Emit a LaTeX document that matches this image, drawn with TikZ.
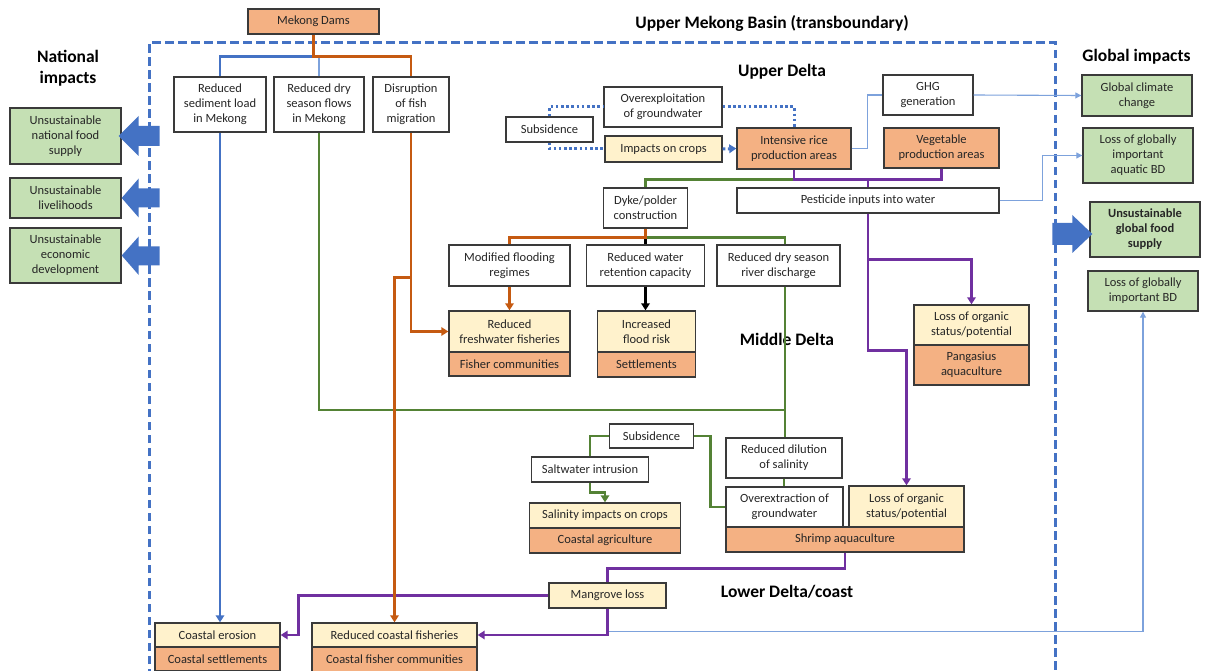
\documentclass[tikz,border=0pt]{standalone}
\usepackage{fontspec}
\setmainfont{Carlito}
\usetikzlibrary{arrows.meta,calc}

\definecolor{boxorange}{HTML}{F4B183}
\definecolor{boxyellow}{HTML}{FFF2CC}
\definecolor{boxgreen}{HTML}{C5E0B4}
\definecolor{edgegray}{HTML}{3A3A3A}
\definecolor{textgray}{HTML}{262626}
\definecolor{lnblue}{HTML}{4472C4}
\definecolor{lnthin}{HTML}{7DA2DC}
\definecolor{lnorange}{HTML}{C55A11}
\definecolor{lngreen}{HTML}{548235}
\definecolor{lnpurple}{HTML}{7030A0}

\newcommand\bxfont{\fontsize{12.5}{15}\selectfont}
\newcommand\hdfont{\fontsize{17.5}{21}\selectfont\bfseries}

\tikzset{
  box/.style={draw=edgegray, line width=1.4pt, inner sep=0pt, align=center, font=\bxfont, text=textgray},
  wbox/.style={box, fill=white},
  obox/.style={box, fill=boxorange},
  ybox/.style={box, fill=boxyellow},
  gbox/.style={box, fill=boxgreen},
  heading/.style={inner sep=0pt, align=center, font=\hdfont},
  thick line/.style={line width=2.8pt},
  cblue/.style={thick line, draw=lnblue},
  corange/.style={thick line, draw=lnorange},
  cgreen/.style={thick line, draw=lngreen},
  cpurple/.style={thick line, draw=lnpurple},
  cblack/.style={thick line, draw=black},
  cthin/.style={line width=1.1pt, draw=lnthin},
  cdot/.style={line width=3pt, draw=lnblue, dash pattern=on 2.6pt off 2.6pt},
  arr/.style={-{Triangle[length=7pt,width=8.5pt]}},
  tarr/.style={-{Triangle[length=6pt,width=6pt]}},
  bigarrow/.style={fill=lnblue},
}

\begin{document}
\begin{tikzpicture}[x=1pt,y=-1pt]
\useasboundingbox (0,0) rectangle (1208,671);
\fill[white] (0,0) rectangle (1208,671);

% basin boundary
\draw[lnblue, line width=3pt, dash pattern=on 8.5pt off 4.5pt]
  (149,690) -- (149,43) -- (1055,43) -- (1055,690);

% headings
\node[heading] (tBasin) at (772,23) {Upper Mekong Basin (transboundary)};
\node[heading] (tNat) at (68,68.5) {National\\impacts};
\node[heading] (tGlob) at (1136.5,57) {Global impacts};
\node[heading] (tUp) at (782,72) {Upper Delta};
\node[heading] (tMid) at (787,339) {Middle Delta};
\node[heading] (tLow) at (787,592) {Lower Delta/coast};

% dams and their direct effects
\node[obox, minimum width=131, minimum height=25] (dams) at (313.5,21.5) {Mekong Dams};
\node[wbox, minimum width=92, minimum height=55] (sed) at (220,104.5) {Reduced\\sediment load\\in Mekong};
\node[wbox, minimum width=90, minimum height=55] (dry) at (319,104.5) {Reduced dry\\season flows\\in Mekong};
\node[wbox, minimum width=76, minimum height=55] (fish) at (411,104.5) {Disruption\\of fish\\migration};

% upper delta
\node[wbox, minimum width=118, minimum height=40] (ovx) at (663,107) {Overexploitation\\of groundwater};
\node[wbox, minimum width=87, minimum height=25] (subU) at (549.5,129.5) {Subsidence};
\node[ybox, minimum width=117, minimum height=26] (crops) at (663.5,149) {Impacts on crops};
\node[obox, minimum width=114, minimum height=41] (rice) at (794,148.5) {Intensive rice\\production areas};
\node[wbox, minimum width=90, minimum height=40] (ghg) at (928,95) {GHG\\generation};
\node[obox, minimum width=115, minimum height=40] (veg) at (941.5,148) {Vegetable\\production areas};
\node[wbox, minimum width=84, minimum height=40] (dyke) at (645.5,208) {Dyke/polder\\construction};
\node[wbox, minimum width=262, minimum height=25] (pest) at (868,200.5) {Pesticide inputs into water};

% middle delta
\node[wbox, minimum width=121, minimum height=41] (mod) at (509.5,265.5) {Modified flooding\\regimes};
\node[wbox, minimum width=118, minimum height=41] (ret) at (645.5,265.5) {Reduced water\\retention capacity};
\node[wbox, minimum width=123, minimum height=41] (dis) at (778.5,265.5) {Reduced dry season\\river discharge};
\node[ybox, minimum width=121, minimum height=41] (fresh) at (509.5,331.5) {Reduced\\freshwater fisheries};
\node[obox, minimum width=121, minimum height=24] (fcom) at (509.5,364) {Fisher communities};
\node[ybox, minimum width=98, minimum height=41] (flood) at (646.5,331.5) {Increased\\flood risk};
\node[obox, minimum width=98, minimum height=25] (settl) at (646.5,364.5) {Settlements};
\node[ybox, minimum width=115, minimum height=40] (porg) at (971.5,325) {Loss of organic\\status/potential};
\node[obox, minimum width=115, minimum height=40] (pang) at (971.5,365) {Pangasius\\aquaculture};

% lower delta / coast
\node[wbox, minimum width=84, minimum height=24] (subL) at (651.5,436) {Subsidence};
\node[wbox, minimum width=117, minimum height=25] (salt) at (590,469.5) {Saltwater intrusion};
\node[ybox, minimum width=151, minimum height=25] (salin) at (605,515.5) {Salinity impacts on crops};
\node[obox, minimum width=151, minimum height=25] (cagr) at (605,540.5) {Coastal agriculture};
\node[wbox, minimum width=116, minimum height=40] (dil) at (784,458) {Reduced dilution\\of salinity};
\node[wbox, minimum width=117, minimum height=40] (ovex) at (784.5,507) {Overextraction of\\groundwater};
\node[ybox, minimum width=115, minimum height=41] (sorg) at (906.5,506.5) {Loss of organic\\status/potential};
\node[obox, minimum width=238, minimum height=25] (shrimp) at (845,539.5) {Shrimp aquaculture};
\node[ybox, minimum width=117, minimum height=25] (mang) at (607.5,595.5) {Mangrove loss};
\node[ybox, minimum width=125, minimum height=24] (cero) at (217.5,635) {Coastal erosion};
\node[obox, minimum width=125, minimum height=24] (cset) at (217.5,659) {Coastal settlements};
\node[ybox, minimum width=165, minimum height=24] (rcf) at (394.5,635) {Reduced coastal fisheries};
\node[obox, minimum width=165, minimum height=25] (cfc) at (394.5,659.5) {Coastal fisher communities};

% national impacts
\node[gbox, minimum width=111, minimum height=56] (nfood) at (65.5,136) {Unsustainable\\national food\\supply};
\node[gbox, minimum width=111, minimum height=40] (liv) at (65.5,198) {Unsustainable\\livelihoods};
\node[gbox, minimum width=111, minimum height=55] (econ) at (65.5,255.5) {Unsustainable\\economic\\development};

% global impacts
\node[gbox, minimum width=110, minimum height=41] (gcc) at (1137,95.5) {Global climate\\change};
\node[gbox, minimum width=110, minimum height=55] (gabd) at (1138,155.5) {Loss of globally\\important\\aquatic BD};
\node[gbox, minimum width=110, minimum height=55, font=\bxfont\bfseries] (gfood) at (1145,229.5) {Unsustainable\\global food\\supply};
\node[gbox, minimum width=110, minimum height=40] (gbd) at (1143,291) {Loss of globally\\important BD};

% junction points
\coordinate (gj) at (785,410);
\coordinate (pj) at (868,179.5);
\coordinate (dj) at ($(dyke.south)+(0,9)$);

% dam links
\draw[cblue] ($(dams.south)+(0,22)$) -| (sed.north);
\draw[cthin] (dry.north) -- ++(0,-21);
\draw[cblue, arr] (sed.south) -- (sed.south |- cero.north);

% green flow chain
\draw[cgreen] (dry.south) |- (gj);
\draw[cgreen] (dis.south -| gj) -- (dil.north -| gj);
\draw[cgreen] (rice.south |- pj) -| (dyke.north);
\draw[cgreen] (dj) -| (dis.north -| gj);

% upper delta groundwater loop
\draw[cdot] (subU.north) |- (ovx.west);
\draw[cdot] (ovx.east) -| (rice.north);
\draw[cdot] (subU.south) |- (crops.west);
\draw[cdot, arr] (crops.east) -- (rice.west);

% links to global impacts
\draw[cthin] (rice.east) -- ++(16,0) |- (ghg.west);
\draw[cthin, tarr] (ghg.east) -- (gcc.west);
\draw[cthin, tarr] (pest.east) -- ++(43,0) |- (gabd.west);
\draw[cthin, tarr] ($(mang.south)+(0,23)$) -| (gbd.south);

% pesticide chain
\draw[cpurple] (rice.south) |- (veg.south |- pj) -- (veg.south);
\draw[cpurple] (pj) -- (pest.north -| pj);
\draw[cpurple, arr] (pest.south -| pj) -- ($(pest.south -| pj)+(0,137)$) -| (sorg.north);
\draw[cpurple, arr] ($(pest.south -| pj)+(0,46)$) -| (porg.north);

% dyke effects
\draw[cblack] (dj) -- (ret.north);
\draw[corange] (dyke.south) -- (dj) -| (mod.north);
\draw[corange, arr] (mod.south) -- (fresh.north);
\draw[cblack, arr] (ret.south) -- (ret.south |- flood.north);

% lower delta salinity
\draw[cgreen] (subL.west) -| (salt.north);
\draw[cgreen, arr] (salt.south) -- ++(0,10) -| (salin.north);
\draw[cgreen] (subL.east) -- ++(16,0) |- (ovex.west);
\draw[cgreen] (dil.south) -- (dil.south |- ovex.north);

% shrimp and mangroves
\draw[cpurple] (shrimp.south) -- ++(0,16) -| (mang.north);
\draw[cpurple, arr] (mang.west) -| ($(cero.east)+(18,0)$) -- (cero.east);
\draw[cpurple, arr] (mang.south) |- (rcf.east);

% fish migration and dam trunk
\draw[corange] (dams.south) -- ++(0,22) -| (fish.north);
\draw[corange, arr] (fish.south) |- (fresh.west);
\draw[corange, arr] ($(fish.south)+(0,145)$) -| (rcf.north);

% block arrows to national and global impacts
\fill[bigarrow] ($(nfood.east)+(-3,0)$) -- ++(20,-20) -- ++(0,10) -- ++(21,0) -- ++(0,20) -- ++(-21,0) -- ++(0,10) -- cycle;
\fill[bigarrow] (liv.east) -- ++(17,-19.5) -- ++(0,10) -- ++(21,0) -- ++(0,19) -- ++(-21,0) -- ++(0,10) -- cycle;
\fill[bigarrow] (econ.east) -- ++(17,-19) -- ++(0,10) -- ++(21,0) -- ++(0,19) -- ++(-21,0) -- ++(0,9.5) -- cycle;
\fill[bigarrow] ($(gfood.west)+(3,4.5)$) -- ++(-20,-19) -- ++(0,8) -- ++(-20,0) -- ++(0,22) -- ++(20,0) -- ++(0,8) -- cycle;
\end{tikzpicture}
\end{document}
